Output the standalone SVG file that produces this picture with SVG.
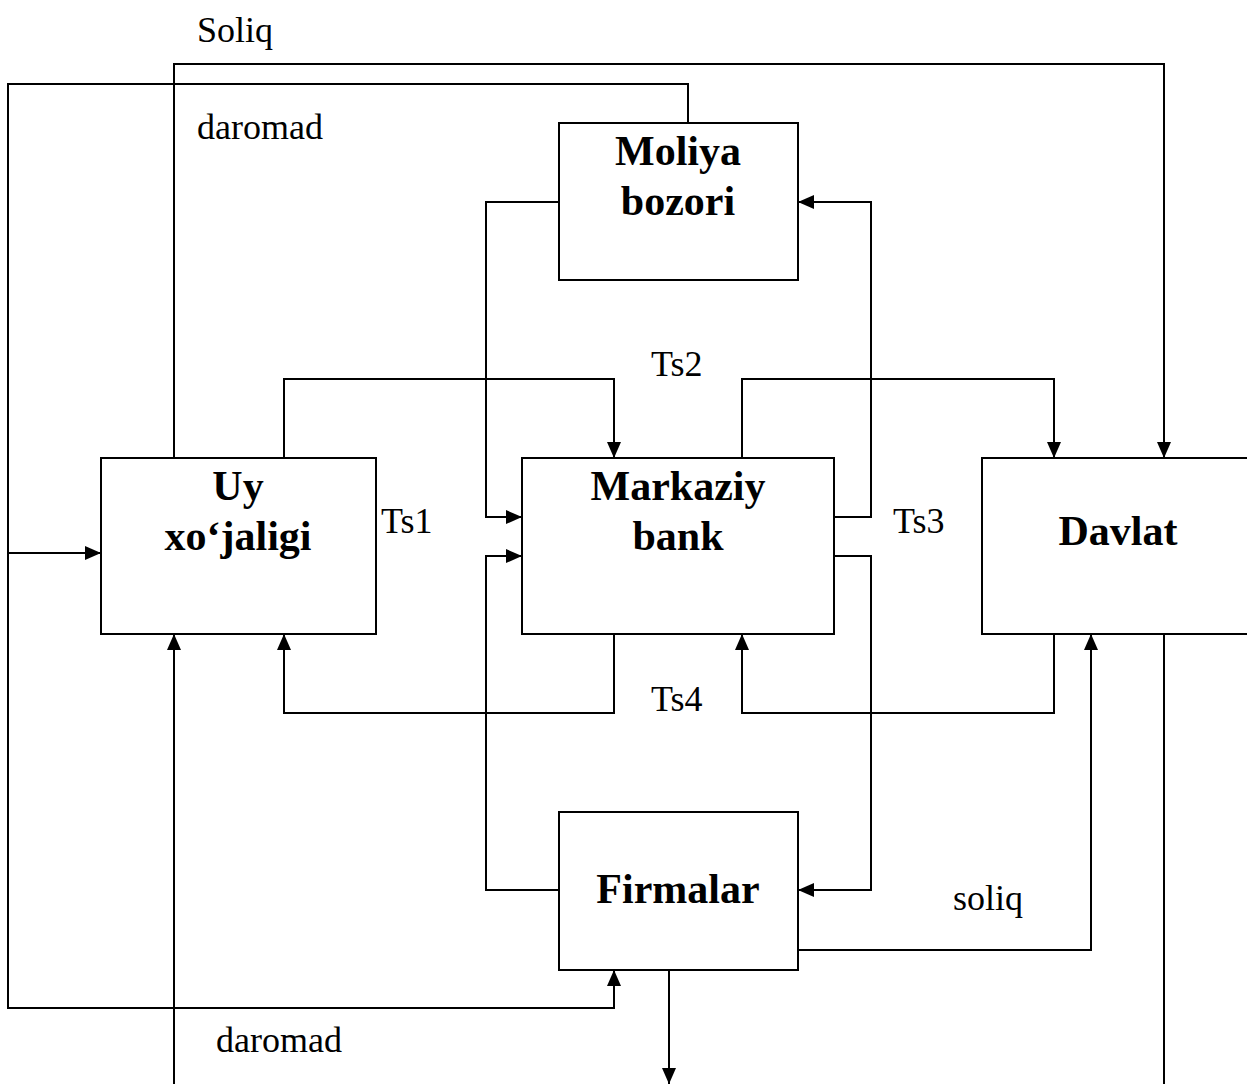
<svg xmlns="http://www.w3.org/2000/svg" width="1247" height="1084" viewBox="0 0 1247 1084">
<style>
.box{fill:#fff;stroke:#000;stroke-width:2}
.c{fill:none;stroke:#000;stroke-width:2}
.a{marker-end:url(#arr)}
.t{font-family:"Liberation Serif","Times New Roman",serif;font-size:36px;fill:#000}
.b{font-family:"Liberation Serif","Times New Roman",serif;font-size:42px;font-weight:bold;fill:#000;text-anchor:middle}
</style>
<defs>
<marker id="arr" markerUnits="userSpaceOnUse" markerWidth="16" markerHeight="14" refX="16" refY="7" orient="auto">
<path d="M0,0 L16,7 L0,14 z" fill="#000"/>
</marker>
</defs>
<rect width="1247" height="1084" fill="#fff"/>
<g id="connectors">
<path class="c a" d="M174,458 V64 H1164 V458"/>
<path class="c a" d="M688,123 V84 H8 V1008 H614 V970"/>
<path class="c a" d="M8,553 H101"/>
<path class="c a" d="M284,458 V379 H614 V458"/>
<path class="c a" d="M742,458 V379 H1054 V458"/>
<path class="c a" d="M614,634 V713 H284 V634"/>
<path class="c a" d="M1054,634 V713 H742 V634"/>
<path class="c a" d="M559,202 H486 V517 H522"/>
<path class="c a" d="M559,890 H486 V556 H522"/>
<path class="c a" d="M834,517 H871 V202 H798"/>
<path class="c a" d="M834,556 H871 V890 H798"/>
<path class="c a" d="M798,950 H1091 V634"/>
<path class="c a" d="M669,970 V1084"/>
<path class="c a" d="M174,1084 V634"/>
<path class="c" d="M1164,634 V1084"/>
</g>
<g id="moliya"><rect class="box" x="559" y="123" width="239" height="157"/>
<text class="b" x="678" y="165">Moliya</text><text class="b" x="678" y="215">bozori</text></g>
<g id="uy"><rect class="box" x="101" y="458" width="275" height="176"/>
<text class="b" x="238" y="500">Uy</text><text class="b" x="238" y="550">xo‘jaligi</text></g>
<g id="markaziy"><rect class="box" x="522" y="458" width="312" height="176"/>
<text class="b" x="678" y="500">Markaziy</text><text class="b" x="678" y="550">bank</text></g>
<g id="davlat"><rect class="box" x="982" y="458" width="280" height="176"/>
<text class="b" x="1118" y="545">Davlat</text></g>
<g id="firmalar"><rect class="box" x="559" y="812" width="239" height="158"/>
<text class="b" x="678" y="903">Firmalar</text></g>
<g id="labels">
<text class="t" x="197" y="42">Soliq</text>
<text class="t" x="197" y="139">daromad</text>
<text class="t" x="651" y="376">Ts2</text>
<text class="t" x="381" y="533">Ts1</text>
<text class="t" x="893" y="533">Ts3</text>
<text class="t" x="651" y="711">Ts4</text>
<text class="t" x="953" y="910">soliq</text>
<text class="t" x="216" y="1052">daromad</text>
</g>
</svg>
